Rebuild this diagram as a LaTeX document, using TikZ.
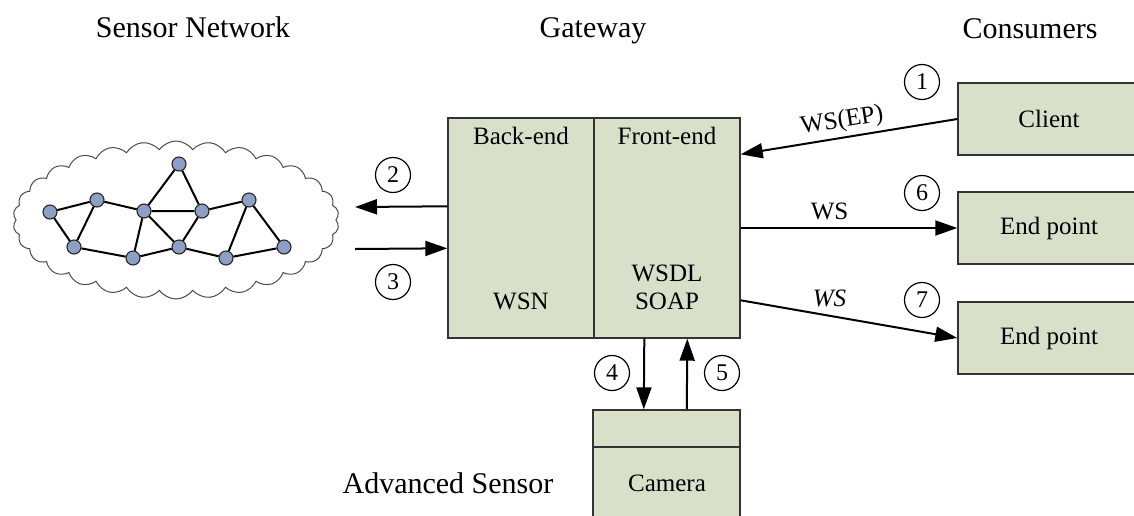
\documentclass[tikz,border=0pt]{standalone}
\usepackage{fontspec}
\setmainfont{Liberation Serif}
\usetikzlibrary{arrows.meta,shapes.symbols}
\definecolor{boxfill}{HTML}{D9E0CA}
\definecolor{dotfill}{HTML}{8E9FC6}
\begin{document}
\begin{tikzpicture}[x=1pt,y=-1pt,
 box/.style={draw=black!80, line width=1.4pt, fill=boxfill, rectangle, inner sep=0pt},
 lbl/.style={font=\fontsize{25}{28}\selectfont, inner sep=0pt, align=center},
 ttl/.style={font=\fontsize{30}{34}\selectfont, inner sep=0pt, anchor=base},
 num/.style={circle, draw, line width=1.2pt, minimum size=35pt, inner sep=0pt, font=\fontsize{24}{26}\selectfont},
 arr/.style={line width=2pt, -{Triangle[length=22pt,width=15pt]}},
 dot/.style={circle, draw=black!85, line width=1.1pt, fill=dotfill, minimum size=14pt, inner sep=0pt},
 net/.style={line width=2pt}]
\useasboundingbox (0,0) rectangle (1134,515);

% titles
\node[ttl] (tsn) at (193,37) {Sensor Network};
\node[ttl] (tgw) at (593,37) {Gateway};
\node[ttl] (tcons) at (1030,38) {Consumers};
\node[ttl] (tadv) at (448,493) {Advanced Sensor};

% cloud and sensor network
\node[cloud, draw=black!70, line width=1pt, cloud puffs=30, cloud puff arc=110, aspect=2.1, minimum width=326pt, minimum height=158pt] (cloud) at (176,220) {};
\node[dot] (a) at (50,212) {};
\node[dot] (b) at (97,200) {};
\node[dot] (c) at (74,247) {};
\node[dot] (d) at (133,258) {};
\node[dot] (e) at (144,211) {};
\node[dot] (f) at (179,164) {};
\node[dot] (g) at (202,211) {};
\node[dot] (h) at (179,247) {};
\node[dot] (i) at (249,200) {};
\node[dot] (j) at (226,258) {};
\node[dot] (k) at (284,247) {};
\draw[net] (a)--(b) (a)--(c) (b)--(c) (b)--(e) (c)--(d) (d)--(e) (d)--(h)
 (e)--(f) (e)--(g) (e)--(h) (f)--(g) (g)--(h) (g)--(i) (h)--(j) (i)--(j) (i)--(k) (j)--(k);

% gateway
\node[box, minimum width=146pt, minimum height=220pt] (back) at (521,228) {};
\node[box, minimum width=146pt, minimum height=220pt] (front) at (667,228) {};
\node[lbl] (tback) at (521,136) {Back-end};
\node[lbl] (twsn) at (521,301) {WSN};
\node[lbl] (tfront) at (667,136) {Front-end};
\node[lbl] (tsoap) at (667,287) {WSDL\\SOAP};

% camera
\node[box, minimum width=147pt, minimum height=37pt] (camtop) at (666.5,428.5) {};
\node[box, minimum width=147pt, minimum height=90pt] (cambot) at (666.5,492) {};
\node[lbl] (tcam) at (667,483) {Camera};

% consumers
\node[box, minimum width=200pt, minimum height=72pt] (client) at (1058,119) {};
\node[lbl] (tclient) at (1049,119) {Client};
\node[box, minimum width=200pt, minimum height=72pt] (ep1) at (1058,228) {};
\node[lbl] (tep1) at (1049,228) {End point};
\node[box, minimum width=200pt, minimum height=72pt] (ep2) at (1058,338) {};
\node[lbl] (tep2) at (1049,338) {End point};

% free ends on the network side
\coordinate (n2) at (355,207);
\coordinate (n3) at (355,249);

% arrows
\draw[arr] ([yshift=-89pt]back.north west) -- (n2);
\draw[arr] (n3) -- ([yshift=-131pt]back.north west);
\draw[arr] (client.west) -- node[lbl, sloped, above=4pt, pos=0.52] (lws1) {WS(EP)} ([yshift=-37pt]front.north east);
\draw[arr] (front.east) -- node[lbl, above=7pt, pos=0.41] (lws6) {WS} (ep1.west);
\draw[arr] ([yshift=-183pt]front.north east) -- node[lbl, above=8pt, pos=0.41] (lws7) {\itshape WS} (ep2.west);
\draw[arr] ([xshift=51pt]front.south west) -- ([xshift=51.5pt]camtop.north west);
\draw[arr] ([xshift=94.5pt]camtop.north west) -- ([xshift=94pt]front.south west);

% numbers
\node[num] (c1) at (922,82) {1};
\node[num] (c2) at (393,175) {2};
\node[num] (c3) at (393,282) {3};
\node[num] (c4) at (612,373) {4};
\node[num] (c5) at (722,373) {5};
\node[num] (c6) at (922,193) {6};
\node[num] (c7) at (922,300) {7};
\end{tikzpicture}
\end{document}
